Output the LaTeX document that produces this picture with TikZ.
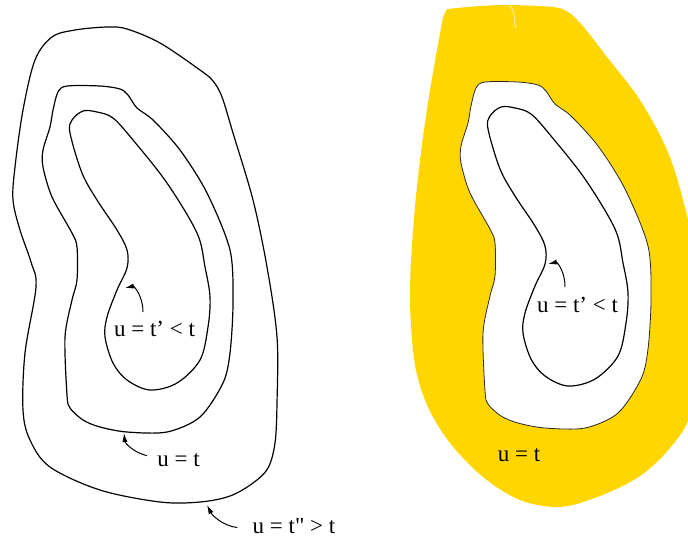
\documentclass[tikz,border=0pt]{standalone}
\usepackage{fontspec}
\setmainfont{Liberation Serif}[Ligatures=TeXOff]
\usetikzlibrary{arrows.meta,calc}
\definecolor{goldfill}{RGB}{255,214,0}

\tikzset{
  x=0.5pt, y=-0.5pt,
  contour/.style={line width=0.6pt, black},
  holeedge/.style={line width=0.4pt, black!85},
  lab/.style={anchor=base, inner sep=0pt, font=\fontsize{11.5}{14}\selectfont},
  pointer/.style={line width=0.5pt, -{Latex[length=4.5pt,width=2.6pt]}},
  % level sets of u
  outerloop/.style={insert path={plot[smooth cycle,tension=0.55] coordinates {
    (107,27) (127,29) (160,43) (200,70) (213,81) (222,97) (233,133) (253,200)
    (267,267) (277,337) (277,403) (275,443) (268,468) (253,483) (230,496)
    (200,502) (160,502) (100,490) (50,467) (30,440) (23,410) (25,353)
    (36,287) (31,262) (20,230) (13,200) (15,167) (23,110) (35,60) (52,37)
    (75,30)}}},
  midloop/.style={insert path={plot[smooth cycle,tension=0.5] coordinates {
    (67,86) (100,86) (120,89) (128,95) (137,108) (153,120) (180,150) (207,193)
    (230,250) (233,303) (230,353) (223,383) (200,417) (167,432) (127,432)
    (100,427) (83,420) (70,408) (67,395) (65,337) (72,300) (77,280) (77,247)
    (72,233) (52,197) (43,167) (43,150) (50,127) (53,110) (58,92)}}},
  innerloop/.style={insert path={plot[smooth cycle,tension=0.55] coordinates {
    (83,111) (97,112) (113,118) (133,140) (167,183) (197,233) (205,267)
    (210,297) (208,327) (200,360) (177,383) (150,390) (127,380) (113,363)
    (105,337) (107,317) (117,290) (127,268) (127,250) (117,230) (97,200)
    (82,173) (70,133) (72,120)}}},
  bandloop/.style={insert path={plot[smooth,tension=0.55] coordinates {
    (447,9) (480,6) (510,5) (553,7) (568,12) (582,25) (607,57) (640,100)
    (667,150) (683,200) (698,270) (700,350) (690,415) (670,448) (640,476)
    (600,496) (560,507) (520,500) (483,477) (450,443) (428,407) (415,365)
    (410,300) (413,230) (420,160) (430,90) (443,17)} -- cycle}},
}

\begin{document}
\begin{tikzpicture}
\path[use as bounding box] (0,0) rectangle (688,537);
\clip (0,0) rectangle (688,537);

% ---- left: three level curves ----
\draw[contour, outerloop];
\draw[contour, midloop];
\draw[contour, innerloop];

\node[lab] (l1) at (154.5,336) {u = t’ < t};
\node[lab] (l2) at (178.5,466) {u = t};
\node[lab] (l3) at (294,533) {u = t" > t};

\coordinate (h1) at (125,288);
\coordinate (h2) at (124,433);
\coordinate (h3) at (207,505);
\draw[pointer] ($(l1.base)+(-11.5,-24)$) .. controls +(0,-16) and +(9,-2) .. (h1);
\draw[pointer] ($(l2.west)+(-10,-4)$) .. controls +(-13,-3) and +(1,10) .. (h2);
\draw[pointer] ($(l3.west)+(-15,2)$) .. controls +(-15,-2) and +(5,10) .. (h3);

% ---- right: the band {u = t} shaded ----
\fill[goldfill, bandloop];
\draw[white!70!goldfill, line width=0.4pt] (510,6) .. controls (516,12) and (513,20) .. (516,28);
\begin{scope}[shift={(418,-4)}]
  \fill[white] [midloop];
  \draw[holeedge, midloop];
  \draw[contour, innerloop];
\end{scope}

\node[lab] (r1) at (577.5,312) {u = t’ < t};
\node[lab] (r2) at (519,461) {u = t};

\coordinate (h4) at (548,264);
\draw[pointer] ($(r1.base)+(-12.5,-25)$) .. controls +(0,-16) and +(9,-2) .. (h4);
\end{tikzpicture}
\end{document}
